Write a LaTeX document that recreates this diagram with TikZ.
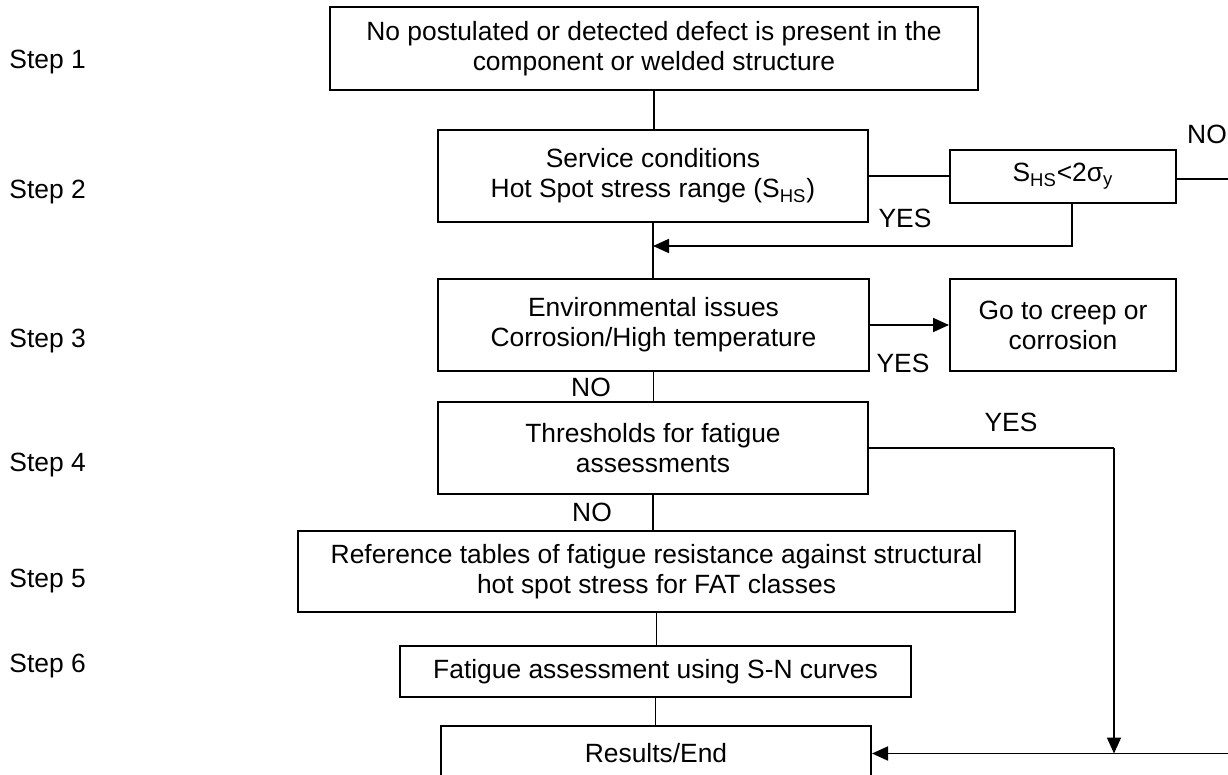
\documentclass[tikz,border=0pt]{standalone}
\usepackage{fontspec}
\setmainfont{Liberation Sans}
\usetikzlibrary{arrows.meta}
\newcommand\dfont{\fontsize{13.2pt}{15pt}\selectfont}
\begin{document}
\begin{tikzpicture}[x=0.5pt,y=-0.5pt,
  box/.style={draw, line width=1pt, align=center, inner sep=0pt, font=\dfont},
  lbl/.style={inner sep=0pt, font=\dfont},
  conn/.style={line width=0.9pt},
  arr/.style={line width=0.9pt, -{Triangle[length=8pt,width=7pt]}}]
\useasboundingbox (0,0) rectangle (1228,775);
\clip (0,0) rectangle (1228,775);

% step labels
\node[lbl, anchor=west] (s1) at (9,62) {Step 1};
\node[lbl, anchor=west] (s2) at (9,192) {Step 2};
\node[lbl, anchor=west] (s3) at (9,341) {Step 3};
\node[lbl, anchor=west] (s4) at (9,465) {Step 4};
\node[lbl, anchor=west] (s5) at (9,581) {Step 5};
\node[lbl, anchor=west] (s6) at (9,666) {Step 6};

% boxes
\node[box, minimum width=324pt, minimum height=41.5pt] (b1) at (654,48.5)
  {No postulated or detected defect is present in the\\component or welded structure};
\node[box, minimum width=215pt, minimum height=46pt] (b2) at (653,176)
  {Service conditions\\Hot Spot stress range (S\textsubscript{HS})};
\node[box, minimum width=113pt, minimum height=26.5pt] (shs) at (1063,176.5)
  {S\textsubscript{HS}<2σ\textsubscript{y}};
\node[box, minimum width=215.5pt, minimum height=46pt] (b3) at (653.5,325)
  {Environmental issues\\Corrosion/High temperature};
\node[box, minimum width=113pt, minimum height=46pt] (cr) at (1063,325)
  {Go to creep or\\corrosion};
\node[box, minimum width=215pt, minimum height=46pt] (b4) at (653,448)
  {Thresholds for fatigue\\assessments};
\node[box, minimum width=358.5pt, minimum height=40.5pt] (b5) at (656.5,571.5)
  {Reference tables of fatigue resistance against structural\\hot spot stress for FAT classes};
\node[box, minimum width=255.5pt, minimum height=25.5pt] (b6) at (655.5,671.5)
  {Fatigue assessment using S-N curves};
\node[box, minimum width=215pt, minimum height=27.5pt] (b7) at (656,753.5)
  {Results/End};

% helper coordinates
\coordinate (rt) at (1240,179);
\coordinate (fb) at (1072,246);
\coordinate (dn) at (1114,448);

% connectors
\draw[conn] (b1.south) -- (b1.south |- b2.north);
\draw[conn] (b2.east) -- (b2.east -| shs.west);
\draw[arr] (shs.east |- rt) -- (rt) -- (rt |- b7.east) -- (b7.east);
\draw[arr] (shs.south -| fb) -- (fb) -- (b2.south |- fb);
\draw[conn] (b2.south) -- (b2.south |- b3.north);
\draw[arr] (b3.east) -- (b3.east -| cr.west);
\draw[conn] (b3.south) -- (b3.south |- b4.north);
\draw[conn] (b4.east) -- (dn);
\draw[arr] (dn) -- (dn |- b7.east);
\draw[conn] (b4.south) -- (b4.south |- b5.north);
\draw[conn] (b5.south) -- (b5.south |- b6.north);
\draw[conn] (b6.south) -- (b6.south |- b7.north);

% branch labels
\node[lbl] (no1) at (1207,134) {NO};
\node[lbl] (yes1) at (905,218) {YES};
\node[lbl] (yes2) at (903,363) {YES};
\node[lbl] (no2) at (591,387) {NO};
\node[lbl] (yes3) at (1011,422) {YES};
\node[lbl] (no3) at (592,512) {NO};
\end{tikzpicture}
\end{document}
